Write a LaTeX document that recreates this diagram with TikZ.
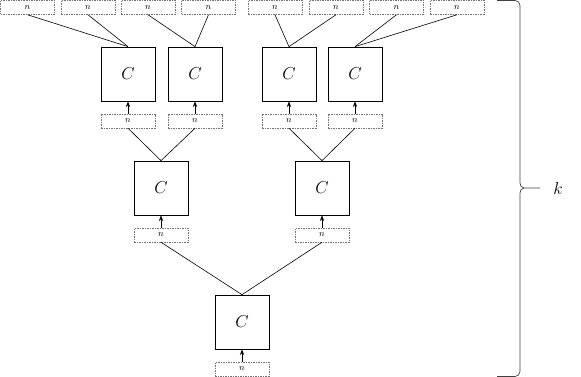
\documentclass[tikz,border=0pt]{standalone}
\usepackage{amsmath}
\usepackage{tikz}
\usetikzlibrary{arrows.meta,positioning}

\begin{document}
\begin{tikzpicture}[
    x=1pt, y=-1pt,
    cb/.style={rectangle, draw, line width=0.7pt, minimum width=54pt, minimum height=54pt,
               inner sep=0pt, font=\LARGE},
    nb/.style={rectangle, draw=black!55, dash pattern=on 1.5pt off 1pt, line width=0.5pt,
               minimum width=54pt, minimum height=14pt, inner sep=0pt, font=\small},
    e/.style={line width=0.6pt},
    a/.style={-{Stealth[length=2mm]}, line width=0.6pt},
    br/.style={line width=0.7pt, black!75},
  ]
  \useasboundingbox (0,0) rectangle (581,377);
  \node[nb] (t1) at (27.5, 7.5) {$n$};
  \node[nb] (t2) at (88.0, 7.5) {$n$};
  \node[nb] (t3) at (148.0, 7.5) {$n$};
  \node[nb] (t4) at (208.5, 7.5) {$n$};
  \node[nb] (t5) at (275.0, 7.5) {$n$};
  \node[nb] (t6) at (336.0, 7.5) {$n$};
  \node[nb] (t7) at (396.5, 7.5) {$n$};
  \node[nb] (t8) at (457.0, 7.5) {$n$};
  \node[cb] (c21) at (128, 74) {$C$};
  \node[cb] (c22) at (195, 74) {$C$};
  \node[cb] (c23) at (289, 74) {$C$};
  \node[cb] (c24) at (355, 74) {$C$};
  \node[nb] (m21) at (128, 121) {$n$};
  \node[nb] (m22) at (195, 121) {$n$};
  \node[nb] (m23) at (289, 121) {$n$};
  \node[nb] (m24) at (355, 121) {$n$};
  \node[cb] (c11) at (161, 188) {$C$};
  \node[cb] (c12) at (322, 188) {$C$};
  \node[nb] (m11) at (161, 235) {$n$};
  \node[nb] (m12) at (322, 235) {$n$};
  \node[cb] (c0) at (242, 322) {$C$};
  \node[nb] (m0) at (242, 369) {$n$};
  \draw[e] (t1.south) -- (c21.north);
  \draw[e] (t2.south) -- (c21.north);
  \draw[e] (t3.south) -- (c22.north);
  \draw[e] (t4.south) -- (c22.north);
  \draw[e] (t5.south) -- (c23.north);
  \draw[e] (t6.south) -- (c23.north);
  \draw[e] (t7.south) -- (c24.north);
  \draw[e] (t8.south) -- (c24.north);
  \draw[a] (m21) -- (c21);
  \draw[a] (m22) -- (c22);
  \draw[a] (m23) -- (c23);
  \draw[a] (m24) -- (c24);
  \draw[e] (m21.south) -- (c11.north);
  \draw[e] (m22.south) -- (c11.north);
  \draw[e] (m23.south) -- (c12.north);
  \draw[e] (m24.south) -- (c12.north);
  \draw[a] (m11) -- (c11);
  \draw[a] (m12) -- (c12);
  \draw[e] (m11.south) -- (c0.north);
  \draw[e] (m12.south) -- (c0.north);
  \draw[a] (m0) -- (c0);
  \coordinate (btop) at (497, 0.5);
  \coordinate (bbot) at (497, 376.5);
  \coordinate (btip) at (524, 188);
  \coordinate (bend) at (540, 188);
  \node[font=\LARGE] (k) at (558, 188) {$k$};
  \draw[br] (btop) -- (515, 0.5) to[out=0, in=90] (520, 5.5) -- (520, 183)
    to[out=-90, in=180] (btip) -- (bend);
  \draw[br] (bbot) -- (515, 376.5) to[out=0, in=-90] (520, 371.5) -- (520, 193)
    to[out=90, in=180] (btip);
\end{tikzpicture}
\end{document}
